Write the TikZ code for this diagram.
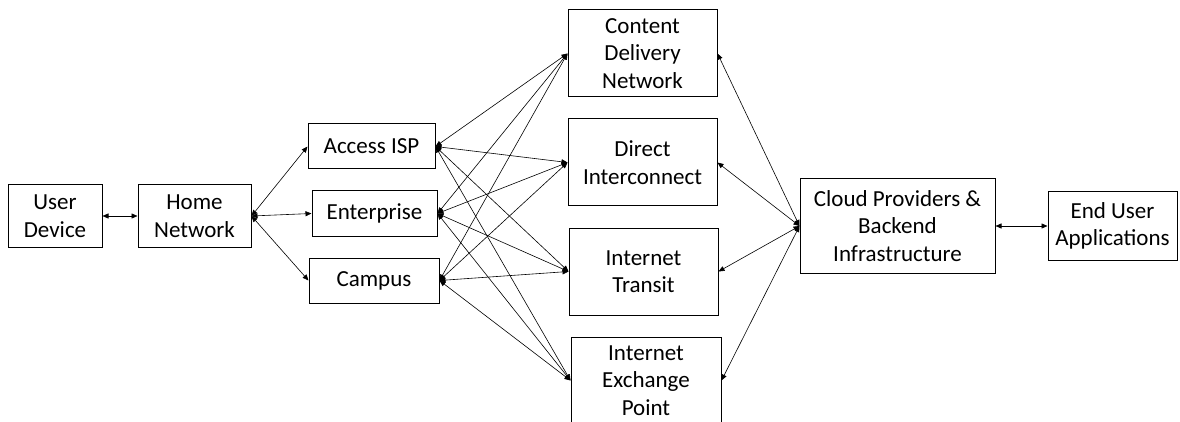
\documentclass[tikz,border=0pt]{standalone}
\usepackage{fontspec}
\setmainfont{Carlito}
\usetikzlibrary{arrows.meta}
\tikzset{
  box/.style={draw=black, line width=1pt, fill=white, inner sep=0pt, align=center,
    font=\fontsize{23}{27.5}\selectfont},
  link/.style={line width=0.6pt, {Triangle[length=6pt,width=5pt]}-{Triangle[length=6pt,width=5pt]}}
}
\begin{document}
\begin{tikzpicture}[x=1pt,y=-1pt]
\useasboundingbox[fill=white] (0,0) rectangle (1180,422);
\node[box, minimum width=94pt, minimum height=63pt] (user) at (55,216) {User\\Device};
\node[box, minimum width=113pt, minimum height=63pt] (home) at (194.5,216) {Home\\Network};
\node[box, minimum width=127pt, minimum height=45pt] (access) at (371.5,146.5) {Access ISP};
\node[box, minimum width=125pt, minimum height=45pt] (ent) at (374.5,213.5) {Enterprise};
\node[box, minimum width=130pt, minimum height=45pt] (campus) at (374,280.5) {Campus};
\node[box, minimum width=149pt, minimum height=87pt] (cdn) at (642.5,53.5) {Content\\Delivery\\Network};
\node[box, minimum width=149pt, minimum height=87pt] (direct) at (642.5,162.5) {Direct\\Interconnect};
\node[box, minimum width=149pt, minimum height=87pt] (transit) at (643.5,271.5) {Internet\\Transit};
\node[box, minimum width=150pt, minimum height=87pt] (ixp) at (646,380.5) {Internet\\Exchange\\Point};
\node[box, minimum width=195pt, minimum height=94pt] (cloud) at (897.5,226) {Cloud Providers \&\\Backend\\Infrastructure};
\node[box, minimum width=129pt, minimum height=68pt] (app) at (1112.5,226) {End User\\Applications};

\draw[link] (user.east) -- (home.west);
\foreach \s in {access,ent,campus}{
  \draw[link] (home.east) -- (\s.west);
  \foreach \t in {cdn,direct,transit,ixp}{
    \draw[link] (\s.east) -- (\t.west);
  }
}
\foreach \t in {cdn,direct,transit,ixp}{
  \draw[link] (cloud.west) -- (\t.east);
}
\draw[link] (cloud.east) -- (app.west);
\end{tikzpicture}
\end{document}
